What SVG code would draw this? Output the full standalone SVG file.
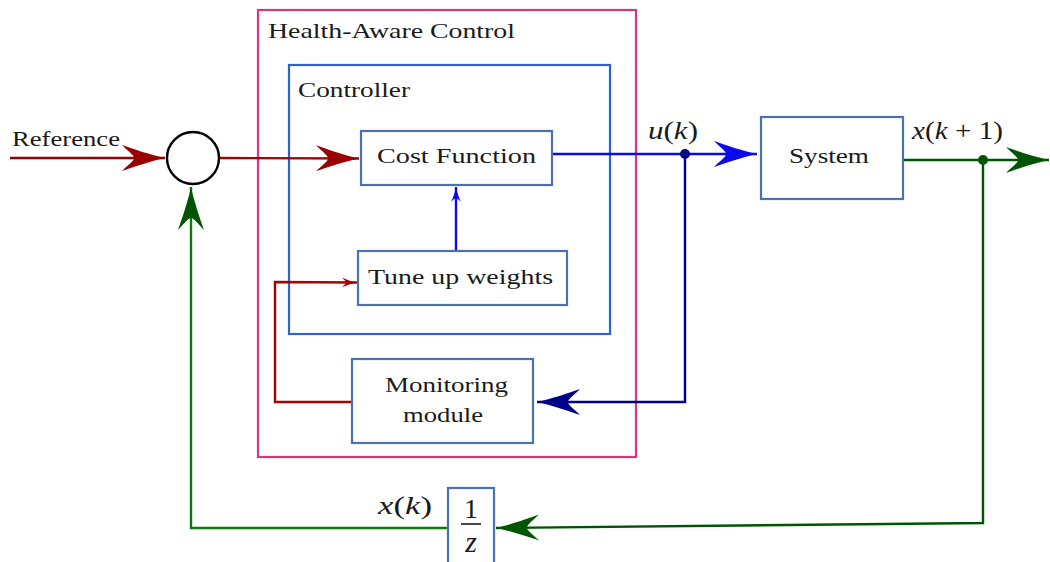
<svg xmlns="http://www.w3.org/2000/svg" width="1050" height="562" viewBox="0 0 1050 562">
<style>
text{font-family:"Liberation Serif","DejaVu Serif","Times New Roman",serif;fill:#1a1a1a}
.t{font-size:22px}
.m{font-size:25px}
.i{font-style:italic}
.box{fill:#fff;stroke:#4a72b0;stroke-width:2.2}
.ln{fill:none;stroke-width:2.4}
</style>
<defs>
<marker id="bigRed" markerUnits="userSpaceOnUse" markerWidth="50" markerHeight="30" refX="0" refY="0" viewBox="-45 -15 50 30" orient="auto" overflow="visible">
<path d="M0,0 C-14,-3 -32,-9 -43,-13 C-37,-7 -31,-3 -31,0 C-31,3 -37,7 -43,13 C-32,9 -14,3 0,0 Z" fill="#990000"/>
</marker>
<marker id="bigBlue" markerUnits="userSpaceOnUse" markerWidth="50" markerHeight="30" refX="0" refY="0" viewBox="-45 -15 50 30" orient="auto" overflow="visible">
<path d="M0,0 C-14,-3 -32,-9 -43,-13 C-37,-7 -31,-3 -31,0 C-31,3 -37,7 -43,13 C-32,9 -14,3 0,0 Z" fill="#0a0aee"/>
</marker>
<marker id="bigNavy" markerUnits="userSpaceOnUse" markerWidth="50" markerHeight="30" refX="0" refY="0" viewBox="-45 -15 50 30" orient="auto" overflow="visible">
<path d="M0,0 C-14,-3 -32,-9 -43,-13 C-37,-7 -31,-3 -31,0 C-31,3 -37,7 -43,13 C-32,9 -14,3 0,0 Z" fill="#00008b"/>
</marker>
<marker id="bigGreen" markerUnits="userSpaceOnUse" markerWidth="50" markerHeight="30" refX="0" refY="0" viewBox="-45 -15 50 30" orient="auto" overflow="visible">
<path d="M0,0 C-14,-3 -32,-9 -43,-13 C-37,-7 -31,-3 -31,0 C-31,3 -37,7 -43,13 C-32,9 -14,3 0,0 Z" fill="#005500"/>
</marker>
<marker id="smBlue" markerUnits="userSpaceOnUse" markerWidth="20" markerHeight="14" refX="0" refY="0" viewBox="-18 -7 20 14" orient="auto" overflow="visible">
<path d="M0,0 C-5,-1 -11,-3 -15,-5 C-12,-2 -11,-1 -11,0 C-11,1 -12,2 -15,5 C-11,3 -5,1 0,0 Z" fill="#0a0aee"/>
</marker>
<marker id="smRed" markerUnits="userSpaceOnUse" markerWidth="20" markerHeight="14" refX="0" refY="0" viewBox="-18 -7 20 14" orient="auto" overflow="visible">
<path d="M0,0 C-5,-1 -11,-3 -15,-5 C-12,-2 -11,-1 -11,0 C-11,1 -12,2 -15,5 C-11,3 -5,1 0,0 Z" fill="#aa0000"/>
</marker>
</defs>

<g id="health-aware-control">
<rect x="258" y="10" width="378" height="447" fill="none" stroke="#d9367f" stroke-width="2.2"/>
<text class="t" x="268" y="38" textLength="247" lengthAdjust="spacingAndGlyphs">Health-Aware Control</text>
</g>
<g id="controller">
<rect x="289" y="65" width="321" height="269" fill="none" stroke="#2a64d4" stroke-width="2.2"/>
<text class="t" x="298" y="97" textLength="112" lengthAdjust="spacingAndGlyphs">Controller</text>
</g>

<g id="connectors">
<line class="ln" x1="10" y1="158" x2="165" y2="158" stroke="#990000" marker-end="url(#bigRed)"/>
<line class="ln" x1="219" y1="158" x2="359" y2="158.5" stroke="#aa0000" marker-end="url(#bigRed)"/>
<line class="ln" x1="552" y1="154" x2="757" y2="154" stroke="#0a0aee" marker-end="url(#bigBlue)"/>
<polyline class="ln" points="685,154 685,402 537,402" stroke="#00008b" marker-end="url(#bigNavy)"/>
<line class="ln" x1="903" y1="160" x2="1049" y2="160" stroke="#005500" marker-end="url(#bigGreen)"/>
<polyline class="ln" points="983,160 983,523 496,528" stroke="#005500" marker-end="url(#bigGreen)"/>
<polyline class="ln" points="448,528 191,528 191,187" stroke="#0a7a0a" marker-end="url(#bigGreen)"/>
<line class="ln" x1="456" y1="251" x2="456" y2="187" stroke="#0a0aee" marker-end="url(#smBlue)"/>
<polyline class="ln" points="352,402 275,402 275,282 357,282.5" stroke="#aa0000" marker-end="url(#smRed)"/>
<circle cx="685" cy="154" r="5" fill="#00008b"/>
<circle cx="983" cy="160" r="5" fill="#005500"/>
<text class="t" x="12" y="146" textLength="108" lengthAdjust="spacingAndGlyphs">Reference</text>
<text class="m" x="648" y="139" textLength="50" lengthAdjust="spacingAndGlyphs"><tspan class="i">u</tspan>(<tspan class="i">k</tspan>)</text>
<text class="m" x="912" y="139" textLength="91" lengthAdjust="spacingAndGlyphs"><tspan class="i">x</tspan>(<tspan class="i">k</tspan> + 1)</text>
<text class="m" x="378" y="514" textLength="54" lengthAdjust="spacingAndGlyphs"><tspan class="i">x</tspan>(<tspan class="i">k</tspan>)</text>
</g>

<g id="sum">
<circle cx="193" cy="158" r="26" fill="#fff" stroke="#000" stroke-width="2.4"/>
</g>
<g id="cost-function">
<rect class="box" x="361" y="131" width="191" height="54"/>
<text class="t" x="456.5" y="163" text-anchor="middle" textLength="159" lengthAdjust="spacingAndGlyphs">Cost Function</text>
</g>
<g id="tune-up-weights">
<rect class="box" x="358" y="251" width="209" height="54"/>
<text class="t" x="460.5" y="284" text-anchor="middle" textLength="185" lengthAdjust="spacingAndGlyphs">Tune up weights</text>
</g>
<g id="monitoring-module">
<rect class="box" x="352" y="359" width="181" height="84"/>
<text class="t" x="446.5" y="392" text-anchor="middle" textLength="123" lengthAdjust="spacingAndGlyphs">Monitoring</text>
<text class="t" x="443" y="422" text-anchor="middle" textLength="80" lengthAdjust="spacingAndGlyphs">module</text>
</g>
<g id="system">
<rect class="box" x="761" y="117" width="142" height="82"/>
<text class="t" x="829" y="163" text-anchor="middle" textLength="80" lengthAdjust="spacingAndGlyphs">System</text>
</g>
<g id="delay">
<rect class="box" x="448" y="488" width="46" height="80"/>
<text x="471" y="518" text-anchor="middle" style="font-size:28px">1</text>
<line x1="461" y1="524" x2="481" y2="524" stroke="#1a1a1a" stroke-width="1.6"/>
<text class="i" x="471" y="552" text-anchor="middle" style="font-size:30px">z</text>
</g>
</svg>
